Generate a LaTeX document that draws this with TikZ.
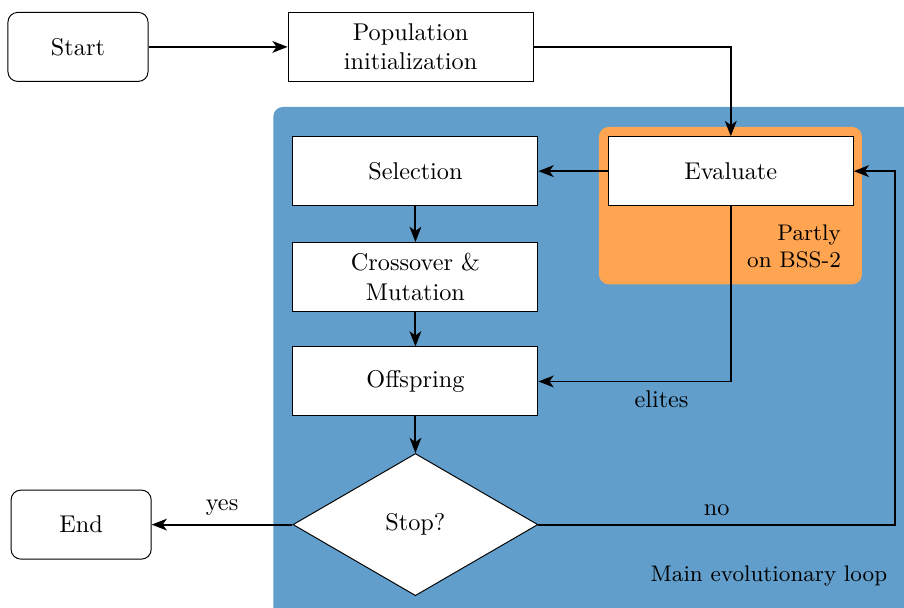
\documentclass[tikz,border=0pt]{standalone}
\usepackage{tikz}
\usetikzlibrary{arrows.meta}
\usetikzlibrary{shapes.geometric, positioning}
\definecolor{loopblue}{RGB}{97,158,203}
\definecolor{bssorange}{RGB}{255,165,82}

\tikzset{
    terminal/.style={draw, rounded corners, fill=white, minimum width=2.03cm, minimum height=1cm},
    process/.style={draw, fill=white, minimum width=3.55cm, minimum height=1cm, align=center},
    decision/.style={draw, diamond, fill=white, aspect=1.72, minimum width=3.55cm, minimum height=2.06cm, inner sep=0pt},
    flow/.style={-{Stealth[length=2.2mm, width=1.7mm, inset=0.6mm]}, thick},
    regionlabel/.style={anchor=east, font=\fontsize{9.3pt}{11.4pt}\selectfont}
}

\begin{document}
\begin{tikzpicture}
    \useasboundingbox (0,0) rectangle (13.1,-8.81);

    % Fonds
    \fill[loopblue, rounded corners] (3.96,-1.55) rectangle (13.5,-9.2);
    \fill[bssorange, rounded corners] (8.68,-1.84) rectangle (12.49,-4.12);

    % Noeuds
    \node[terminal] (start) at (1.13,-0.68) {Start};
    \node[process] (init) at (5.95,-0.68) {Population\\initialization};
    \node[process] (eval) at (10.59,-2.48) {Evaluate};
    \node[process] (sel) at (6.02,-2.48) {Selection};
    \node[process, below=0.52cm of sel] (cross) {Crossover \&\\Mutation};
    \node[process, below=0.5cm of cross] (off) {Offspring};
    \node[decision, below=0.53cm of off] (stop) {Stop?};
    \node[terminal, left=2.04cm of stop] (end) {End};
    \coordinate (ret) at (12.97,-7.58);

    % Textes
    \node[regionlabel, align=right] (bss) at (12.31,-3.57) {Partly\\on BSS-2};
    \node[regionlabel] (mainloop) at (12.98,-8.35) {Main evolutionary loop};

    % Fleches
    \draw[flow] (start) -- (init);
    \draw[flow] (init.east) -| (eval.north);
    \draw[flow] (eval) -- (sel);
    \draw[flow] (sel) -- (cross);
    \draw[flow] (cross) -- (off);
    \draw[flow] (off) -- (stop);
    \draw[flow] (eval.south) |- node[pos=0.68, below] {elites} (off.east);
    \draw[flow] (stop.west) -- node[above] {yes} (end.east);
    \draw[flow] (stop.east) -- node[above] {no} (stop.east -| ret) |- (eval.east);
\end{tikzpicture}
\end{document}
